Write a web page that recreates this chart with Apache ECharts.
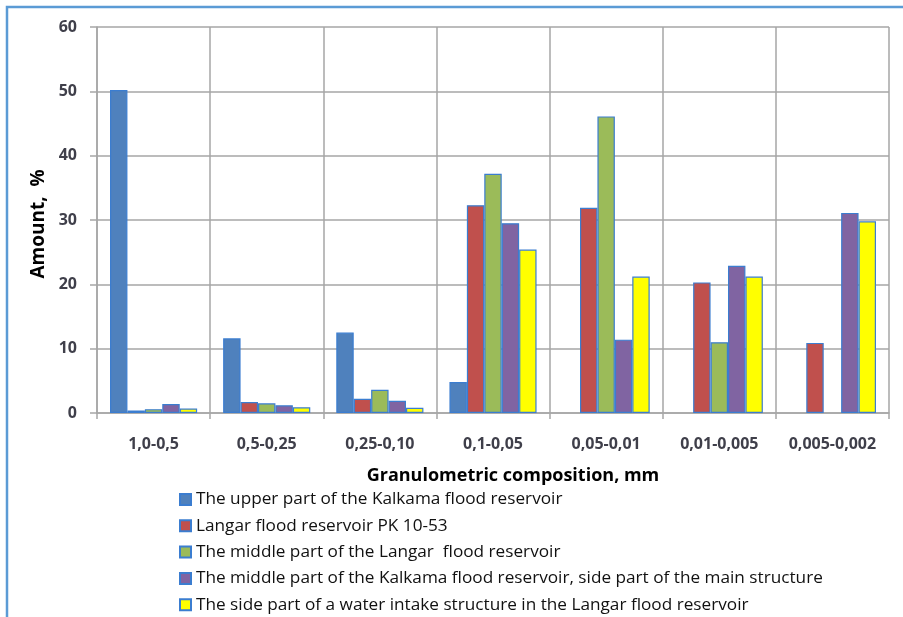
<!DOCTYPE html>
<html><head><meta charset="utf-8">
<script src="https://cdn.jsdelivr.net/npm/echarts@6/dist/echarts.min.js"></script>
<style>html,body{margin:0;padding:0;background:#fff}#c{width:903px;height:617px}</style>
</head><body><div id="c"></div>
<script>
const categories = ['1,0-0,5','0,5-0,25','0,25-0,10','0,1-0,05','0,05-0,01','0,01-0,005','0,005-0,002'];
const seriesNames = [
  'The upper part of the Kalkama flood reservoir',
  'Langar flood reservoir PK 10-53',
  'The middle part of the Langar  flood reservoir',
  'The middle part of the Kalkama flood reservoir, side part of the main structure',
  'The side part of a water intake structure in the Langar flood reservoir'
];
const upperKalkama  = [50.2, 11.6, 12.5, 4.8, null, null, null];
const langarPK      = [0.4, 1.7, 2.2, 32.3, 31.9, 20.3, 10.9];
const middleLangar  = [0.6, 1.5, 3.6, 37.2, 46.1, 11.0, null];
const middleKalkama = [1.4, 1.2, 1.9, 29.5, 11.4, 22.9, 31.1];
const sideIntake    = [0.7, 0.9, 0.8, 25.4, 21.2, 21.2, 29.8];
const yTicks = [0, 10, 20, 30, 40, 50, 60];

const values = [upperKalkama, langarPK, middleLangar, middleKalkama, sideIntake];
const colors = ['#4F81BD', '#C0504D', '#9BBB59', '#8064A2', '#FFFF00'];
const FONT = 'Open Sans';

const chart = echarts.init(document.getElementById('c'));
chart.setOption({
  animation: false,
  textStyle: { fontFamily: FONT },
  graphic: [{
    type: 'rect', silent: true, z: 100,
    shape: { x: 7, y: 7, width: 920, height: 640 },
    style: { fill: 'none', stroke: '#5B9BD5', lineWidth: 2.5 }
  }],
  grid: { left: 97, right: 14, top: 27, bottom: 204, containLabel: false },
  legend: {
    orient: 'vertical', left: 179, top: 491, height: 200, padding: 0,
    itemWidth: 11, itemHeight: 11, itemGap: 9.3,
    icon: 'rect',
    textStyle: { fontFamily: FONT, fontSize: 17.2, color: '#111' },
    data: seriesNames
  },
  xAxis: {
    type: 'category', data: categories,
    name: 'Granulometric composition, mm', nameLocation: 'middle', nameGap: 54,
    nameTextStyle: { fontFamily: FONT, fontSize: 18, fontWeight: 'bold', color: '#000', padding: [0, 0, 0, 40] },
    axisLine: { lineStyle: { color: '#A6A6A6', width: 1.5 } },
    axisTick: { show: true, interval: 0, length: 6, lineStyle: { color: '#A6A6A6', width: 1.5 } },
    axisLabel: { interval: 0, hideOverlap: false, margin: 23, fontFamily: FONT, fontSize: 16, fontWeight: 'bold', color: '#3F3F4A' },
    splitLine: { show: true, interval: 0, lineStyle: { color: '#A6A6A6', width: 1.5 } }
  },
  yAxis: {
    type: 'value', min: 0, max: 60, interval: 10,
    name: 'Amount,  %', nameLocation: 'middle', nameGap: 43, nameRotate: 90,
    nameTextStyle: { fontFamily: FONT, fontSize: 19, fontWeight: 'bold', color: '#000', padding: [0, 8, 0, 0] },
    axisLine: { show: true, lineStyle: { color: '#A6A6A6', width: 1.5 } },
    axisTick: { show: true, length: 7, lineStyle: { color: '#A6A6A6', width: 1.5 } },
    axisLabel: { margin: 20, fontFamily: FONT, fontSize: 16, fontWeight: 'bold', color: '#3F3F4A',
      formatter: v => yTicks.includes(v) ? String(v) : '' },
    splitLine: { show: true, lineStyle: { color: '#A6A6A6', width: 1.5 } }
  },
  series: values.map((arr, i) => ({
    name: seriesNames[i], type: 'bar', data: arr,
    barGap: '0%', barCategoryGap: '23%',
    itemStyle: { color: colors[i], borderColor: '#3B7DD0', borderWidth: 1.2 }
  }))
});
</script></body></html>
